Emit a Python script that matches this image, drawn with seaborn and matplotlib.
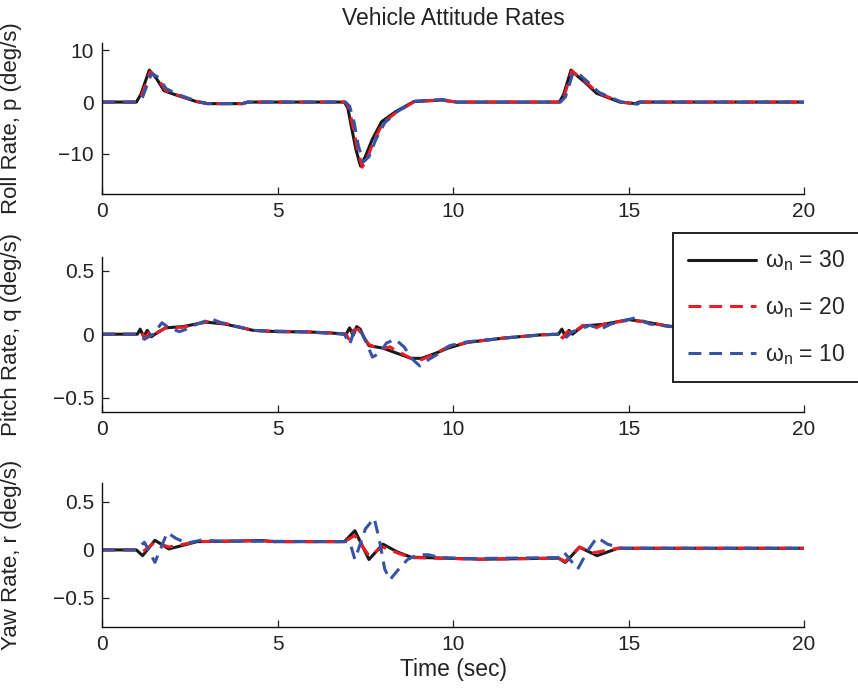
import numpy as np
import pandas as pd
import matplotlib
matplotlib.use("Agg")
import matplotlib.pyplot as plt
import seaborn as sns

# ---------------- data ----------------
roll_t_30 = [0, 0.97, 1.1, 1.34, 1.55, 1.76, 2.09, 2.68, 3.0, 4.0, 4.14, 6.9, 7.0, 7.1, 7.23, 7.36, 7.5, 7.69, 7.96, 8.35, 8.88, 9.67, 10.1, 13.03, 13.15, 13.36, 13.55, 13.76, 14.09, 14.75, 15.2, 15.3, 20]
roll_30 = [0, 0, 1.5, 6.2, 4.5, 2.2, 1.4, 0.1, -0.3, -0.3, 0, 0, -1.2, -4.8, -9.2, -12.4, -10.5, -7.3, -3.8, -1.9, 0.1, 0.4, 0, 0, 1.5, 6.2, 5.0, 3.8, 1.7, 0, -0.3, 0, 0]
roll_t_20 = [0, 0.99, 1.12, 1.37, 1.58, 1.8, 2.12, 2.7, 3.0, 4.0, 4.15, 6.92, 7.02, 7.13, 7.27, 7.41, 7.55, 7.74, 8.0, 8.38, 8.9, 9.67, 10.1, 13.05, 13.17, 13.38, 13.58, 13.8, 14.12, 14.78, 15.2, 15.3, 20]
roll_20 = [0, 0, 1.3, 5.9, 4.6, 2.3, 1.4, 0.1, -0.3, -0.3, 0, 0, -1.0, -4.3, -9.0, -12.6, -10.9, -7.5, -4.0, -2.0, 0.1, 0.4, 0, 0, 1.3, 6.0, 5.0, 3.8, 1.8, 0, -0.3, 0, 0]
roll_t_10 = [0, 1.0, 1.15, 1.4, 1.6, 1.82, 2.15, 2.72, 3.0, 4.0, 4.15, 6.93, 7.05, 7.18, 7.3, 7.44, 7.6, 7.8, 8.05, 8.42, 8.92, 9.7, 10.1, 13.06, 13.2, 13.42, 13.62, 13.84, 14.15, 14.8, 15.25, 15.35, 20]
roll_10 = [0, 0, 1.0, 5.5, 4.8, 2.6, 1.5, 0.1, -0.3, -0.3, 0, 0, -0.8, -4.0, -8.5, -11.6, -10.6, -7.2, -4.0, -1.8, 0.2, 0.5, 0, 0, 1.0, 5.7, 5.2, 3.9, 1.9, 0, -0.4, 0, 0]

pitch_t_30 = [0, 1.0, 1.08, 1.18, 1.28, 1.4, 1.5, 1.8, 2.3, 2.95, 3.5, 4.3, 5.0, 5.85, 6.5, 6.95, 7.05, 7.15, 7.25, 7.35, 7.45, 7.6, 8.0, 8.4, 8.8, 9.1, 9.5, 9.85, 10.4, 11.45, 12.5, 13.0, 13.1, 13.2, 13.3, 13.4, 13.7, 14.3, 15.0, 15.4, 16.1, 17.0, 18.0, 19.0, 20.0]
pitch_30 = [0, 0, 0.04, -0.02, 0.03, -0.02, 0.0, 0.05, 0.06, 0.095, 0.08, 0.03, 0.02, 0.018, 0.01, 0.0, 0.05, -0.01, 0.06, 0.04, -0.02, -0.09, -0.11, -0.15, -0.19, -0.19, -0.15, -0.11, -0.065, -0.03, -0.005, 0.0, 0.04, -0.02, 0.03, 0.0, 0.065, 0.078, 0.115, 0.1, 0.065, 0.04, 0.02, 0.01, 0.0]
pitch_t_20 = [0, 1.0, 1.1, 1.22, 1.35, 1.5, 1.8, 2.3, 3.0, 3.5, 4.3, 5.0, 5.85, 6.5, 6.95, 7.05, 7.15, 7.3, 7.45, 7.6, 7.9, 8.2, 8.45, 8.8, 9.1, 9.5, 9.85, 10.4, 11.45, 12.5, 13.0, 13.12, 13.25, 13.4, 13.7, 14.0, 14.3, 15.0, 15.4, 16.1, 17.0, 18.0, 19.0, 20.0]
pitch_20 = [0, 0, 0.02, -0.03, 0.02, 0.0, 0.05, 0.055, 0.1, 0.085, 0.03, 0.02, 0.018, 0.01, 0.0, -0.05, 0.03, 0.04, -0.03, -0.08, -0.12, -0.1, -0.14, -0.19, -0.2, -0.15, -0.1, -0.065, -0.03, -0.005, 0.0, -0.03, 0.02, 0.01, 0.07, 0.04, 0.08, 0.11, 0.1, 0.065, 0.04, 0.02, 0.01, 0.0]
pitch_t_10 = [0, 1.0, 1.2, 1.45, 1.7, 1.9, 2.2, 2.4, 2.7, 3.1, 3.4, 4.3, 5.8, 6.9, 7.05, 7.2, 7.35, 7.5, 7.7, 7.9, 8.1, 8.35, 8.6, 8.85, 9.05, 9.3, 9.6, 9.9, 10.4, 11.5, 12.5, 13.05, 13.2, 13.4, 13.6, 13.9, 14.2, 14.5, 15.2, 15.6, 16.2, 17.0, 18.0, 19.0, 20.0]
pitch_10 = [0, 0, -0.04, 0.0, 0.09, 0.05, 0.02, 0.04, 0.08, 0.12, 0.09, 0.03, 0.018, 0.0, -0.08, 0.04, 0.03, -0.05, -0.18, -0.15, -0.07, -0.04, -0.1, -0.2, -0.25, -0.2, -0.15, -0.09, -0.06, -0.03, -0.005, 0.0, -0.03, 0.02, 0.04, 0.07, 0.04, 0.08, 0.13, 0.08, 0.06, 0.04, 0.02, 0.01, 0.0]

yaw_t_30 = [0, 0.97, 1.15, 1.5, 1.9, 2.7, 4.55, 4.9, 6.9, 7.2, 7.6, 8.0, 8.4, 8.8, 10.8, 13.0, 13.2, 13.6, 14.1, 14.7, 20.0]
yaw_30 = [0, 0, -0.06, 0.1, 0.01, 0.086, 0.097, 0.086, 0.086, 0.2, -0.1, 0.06, -0.02, -0.076, -0.097, -0.086, -0.13, 0.028, -0.06, 0.017, 0.017]
yaw_t_20 = [0, 0.97, 1.15, 1.5, 1.9, 2.7, 4.55, 4.9, 6.9, 7.2, 7.6, 8.0, 8.4, 8.8, 10.8, 13.0, 13.2, 13.6, 14.0, 14.7, 20.0]
yaw_20 = [0, 0, -0.02, 0.08, 0.03, 0.086, 0.097, 0.086, 0.086, 0.15, -0.06, 0.03, -0.03, -0.08, -0.097, -0.086, -0.12, 0.03, -0.03, 0.017, 0.017]
yaw_t_10 = [0, 0.97, 1.2, 1.5, 1.85, 2.1, 2.4, 2.8, 3.5, 4.5, 6.9, 7.05, 7.2, 7.5, 7.75, 7.9, 8.05, 8.2, 8.45, 8.7, 9.0, 9.3, 9.6, 10.5, 13.0, 13.15, 13.55, 13.85, 14.1, 14.4, 14.8, 20.0]
yaw_10 = [0, 0, 0.08, -0.13, 0.18, 0.12, 0.07, 0.1, 0.09, 0.09, 0.086, 0.086, -0.1, 0.22, 0.33, 0.1, -0.2, -0.31, -0.2, -0.1, -0.05, -0.05, -0.08, -0.09, -0.08, -0.02, -0.2, 0.0, 0.13, 0.06, 0.017, 0.017]

legend_labels = [r"$\omega_{n}$ = 30", r"$\omega_{n}$ = 20", r"$\omega_{n}$ = 10"]
ylabels = ["Roll Rate, p (deg/s)", "Pitch Rate, q (deg/s)", "Yaw Rate, r (deg/s)"]
ylims = [(-17.8, 11.5), (-0.61, 0.61), (-0.8, 0.7)]
yticks = [[-10, 0, 10], [-0.5, 0, 0.5], [-0.5, 0, 0.5]]
yticklabels = [["\u221210", "0", "10"], ["\u22120.5", "0", "0.5"], ["\u22120.5", "0", "0.5"]]
xticks = [0, 5, 10, 15, 20]

# ---------------- style ----------------
sns.set_style("ticks")
plt.rcParams["font.family"] = ["Liberation Sans", "DejaVu Sans"]
plt.rcParams["mathtext.fontset"] = "custom"
plt.rcParams["mathtext.rm"] = "Liberation Sans"
plt.rcParams["mathtext.it"] = "Liberation Sans"
plt.rcParams["mathtext.default"] = "regular"

FS = 15
FS_LAB = 16
FS_TITLE = 16.5
FS_LEG = 16.5
TXT = "#222222"
colors = ["#1a1a1a", "#ec1c24", "#3953a4"]
styles = ["-", (0, (4.2, 2.6)), (0, (4.2, 2.6))]
LW = 2.2

fig = plt.figure(figsize=(8.58, 6.91), dpi=100)
W, H = 858.0, 691.0
left, right = 102.3, 804
rows = [(42.7, 194.0), (256.7, 411.7), (482.7, 626.7)]
axes = []
for (top, bot) in rows:
    ax = fig.add_axes([left / W, (H - bot) / H, (right - left) / W, (bot - top) / H])
    axes.append(ax)

series = [
    [(roll_t_30, roll_30), (roll_t_20, roll_20), (roll_t_10, roll_10)],
    [(pitch_t_30, pitch_30), (pitch_t_20, pitch_20), (pitch_t_10, pitch_10)],
    [(yaw_t_30, yaw_30), (yaw_t_20, yaw_20), (yaw_t_10, yaw_10)],
]

for i, ax in enumerate(axes):
    for j, (tt, vv) in enumerate(series[i]):
        df = pd.DataFrame({"t": tt, "v": vv})
        sns.lineplot(data=df, x="t", y="v", ax=ax, color=colors[j], linestyle=styles[j],
                     lw=LW, sort=False, estimator=None,
                     label=legend_labels[j] if i == 1 else None, legend=False)
    ax.set_xlim(0, 20)
    ax.set_ylim(*ylims[i])
    ax.set_xticks(xticks)
    ax.set_xticklabels([str(x) for x in xticks])
    ax.set_yticks(yticks[i])
    ax.set_yticklabels(yticklabels[i])
    ax.tick_params(direction="in", length=5, width=0.9, labelsize=FS, pad=6, colors=TXT)
    for s in ["top", "right"]:
        ax.spines[s].set_visible(False)
    for s in ["left", "bottom"]:
        ax.spines[s].set_linewidth(1.0)
        ax.spines[s].set_color("#111111")
    ax.set_xlabel("")
    ax.set_ylabel(ylabels[i], fontsize=FS_LAB, color=TXT)
    ax.yaxis.set_label_coords((22 - left) / (right - left), 0.5)

axes[0].set_title("Vehicle Attitude Rates", fontsize=FS_TITLE, color=TXT, pad=13)
axes[2].set_xlabel("Time (sec)", fontsize=FS_TITLE, color=TXT, labelpad=3)

h, l = axes[1].get_legend_handles_labels()
leg = fig.legend(h, l, loc="upper left", bbox_to_anchor=(672.7 / W, (H - 233) / H),
                 bbox_transform=fig.transFigure, fontsize=FS_LEG, frameon=True, fancybox=False,
                 handlelength=2.95, handletextpad=0.4, labelspacing=0.95, borderpad=0.68,
                 borderaxespad=0)
leg.get_frame().set_edgecolor("#111111")
leg.get_frame().set_linewidth(1.3)
leg.get_frame().set_alpha(1.0)

fig.savefig("out.png", dpi=100)
